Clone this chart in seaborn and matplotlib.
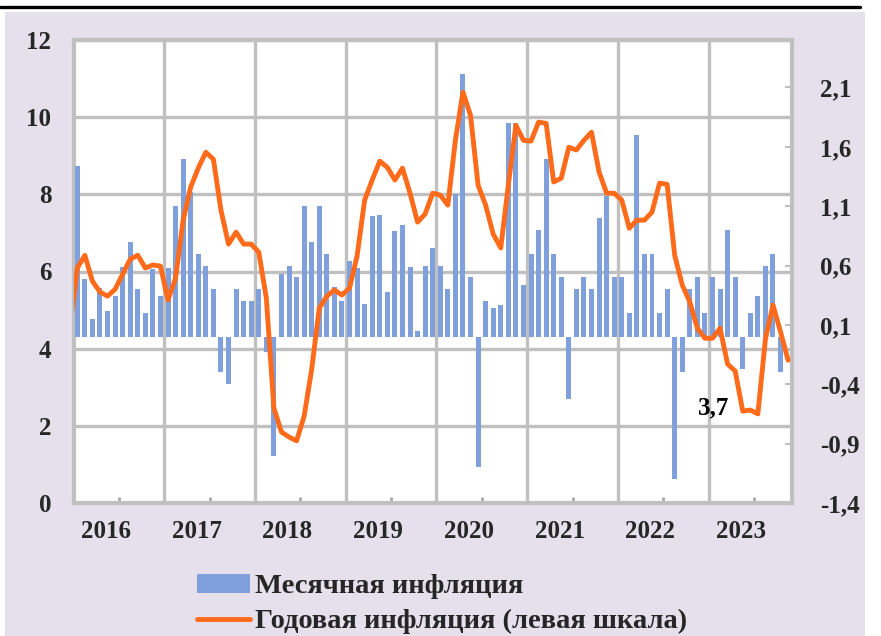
import numpy as np
import pandas as pd
import matplotlib
matplotlib.use("Agg")
import matplotlib.pyplot as plt
import seaborn as sns
from matplotlib.patches import Rectangle
from matplotlib.lines import Line2D
from matplotlib.font_manager import FontProperties

# ---------------- data ----------------
years = ["2016", "2017", "2018", "2019", "2020", "2021", "2022", "2023"]

# monthly inflation, Jan 2016 .. Oct 2023 (right scale)
monthly_2016 = [1.44, 0.49, 0.15, 0.41, 0.22, 0.34, 0.59, 0.80, 0.40, 0.20, 0.57, 0.34]
monthly_2017 = [0.58, 1.10, 1.50, 1.22, 0.70, 0.60, 0.40, -0.30, -0.40, 0.40, 0.30, 0.30]
monthly_2018 = [0.40, -0.13, -1.00, 0.53, 0.60, 0.50, 1.10, 0.80, 1.10, 0.70, 0.42, 0.30]
monthly_2019 = [0.64, 0.58, 0.28, 1.02, 1.03, 0.38, 0.89, 0.94, 0.59, 0.05, 0.60, 0.75]
monthly_2020 = [0.60, 0.40, 1.20, 2.21, 0.50, -1.10, 0.30, 0.24, 0.27, 1.80, 1.80, 0.44]
monthly_2021 = [0.70, 0.90, 1.50, 0.70, 0.50, -0.52, 0.40, 0.50, 0.40, 1.00, 1.19, 0.50]
monthly_2022 = [0.50, 0.20, 1.70, 0.70, 0.70, 0.20, 0.40, -1.20, -0.30, 0.40, 0.50, 0.20]
monthly_2023 = [0.50, 0.40, 0.90, 0.50, -0.27, 0.20, 0.34, 0.60, 0.70, -0.30]

# annual inflation, Dec 2015 .. Nov 2023 (left scale)
annual_2015 = [4.50]
annual_2016 = [6.09, 6.42, 5.75, 5.47, 5.36, 5.54, 5.93, 6.32, 6.42, 6.09, 6.17, 6.14]
annual_2017 = [5.26, 5.83, 7.33, 8.19, 8.68, 9.09, 8.91, 7.59, 6.71, 7.02, 6.71, 6.71]
annual_2018 = [6.50, 5.31, 2.46, 1.84, 1.71, 1.61, 2.25, 3.47, 5.05, 5.36, 5.52, 5.39]
annual_2019 = [5.57, 6.40, 7.85, 8.37, 8.86, 8.70, 8.37, 8.68, 8.03, 7.28, 7.49, 8.03]
annual_2020 = [7.98, 7.72, 9.40, 10.65, 10.05, 8.24, 7.72, 6.97, 6.61, 8.24, 9.79, 9.40]
annual_2021 = [9.38, 9.87, 9.84, 8.32, 8.42, 9.22, 9.15, 9.40, 9.61, 8.58, 8.03, 8.03]
annual_2022 = [7.85, 7.12, 7.33, 7.33, 7.54, 8.29, 8.26, 6.42, 5.65, 5.21, 4.53, 4.27]
annual_2023 = [4.27, 4.53, 3.60, 3.42, 2.38, 2.41, 2.31, 4.25, 5.13, 4.43, 3.70]

left_ticks = [0, 2, 4, 6, 8, 10, 12]
right_ticks = [-1.4, -0.9, -0.4, 0.1, 0.6, 1.1, 1.6, 2.1]

label_monthly = "Месячная инфляция"
label_annual = "Годовая инфляция (левая шкала)"

monthly = (monthly_2016 + monthly_2017 + monthly_2018 + monthly_2019 +
           monthly_2020 + monthly_2021 + monthly_2022 + monthly_2023)
annual = (annual_2015 + annual_2016 + annual_2017 + annual_2018 + annual_2019 +
          annual_2020 + annual_2021 + annual_2022 + annual_2023)

bar_df = pd.DataFrame({"pos": np.arange(len(monthly)), "val": monthly})
line_df = pd.DataFrame({"pos": np.arange(len(annual)) - 1, "val": annual})

# ---------------- style ----------------
sns.set_style("white")
plt.rcParams["font.family"] = ["Liberation Serif", "DejaVu Serif"]
plt.rcParams["font.weight"] = "bold"

BAR = "#7FA0DB"
ORANGE = "#FF6B1A"
GRID = "#C0C0C0"
BG = "#E5E0EC"
FS = 18
LEG_FS = 20.5

W, H = 881, 636
fig = plt.figure(figsize=(W / 100, H / 100), dpi=100, facecolor="white")
fig.patches.append(Rectangle((5 / W, 0), (865 - 5) / W, 1 - 12 / H,
                             transform=fig.transFigure, facecolor=BG,
                             edgecolor="none", zorder=-10))
fig.lines.append(Line2D([0, 860 / W], [1 - 7 / H, 1 - 7 / H],
                        transform=fig.transFigure, color="black", lw=2.4))

L, R, T, B = 73.5, 791.9, 40, 503
ax = fig.add_axes([L / W, 1 - B / H, (R - L) / W, (B - T) / H])
ax.set_facecolor("white")

ax_r = ax.twinx()
ax_line = ax.twinx()

# bars on right scale
sns.barplot(data=bar_df, x="pos", y="val", native_scale=True, ax=ax_r,
            color=BAR, width=0.66, edgecolor="none", linewidth=0,
            saturation=1, label=label_monthly, legend=False)
# line on left scale
sns.lineplot(data=line_df, x="pos", y="val", ax=ax_line, color=ORANGE,
             linewidth=3.5, solid_joinstyle="round", solid_capstyle="round",
             label=label_annual, legend=False)

n_cat = len(monthly) + 1
ax.set_xlim(-0.5, n_cat - 0.5)
ax.set_ylim(left_ticks[0], left_ticks[-1])
ax_line.set_ylim(left_ticks[0], left_ticks[-1])
ax_r.set_ylim(right_ticks[0], 2.5)

for a in (ax, ax_r, ax_line):
    a.set_xlabel("")
    a.set_ylabel("")

# left axis
ax.set_yticks(left_ticks, labels=[str(v) for v in left_ticks])
ax.tick_params(axis="y", length=0, pad=16, labelsize=FS)
ax.yaxis.grid(True, color=GRID, lw=2.4)

# x axis: year labels, year-boundary gridlines
year_pos = [12 * k + 3.8 for k in range(len(years))]
ax.set_xticks(year_pos, labels=years)
ax.tick_params(axis="x", which="major", length=0, pad=12, labelsize=FS)
ax.set_xticks([12 * k + 11.5 for k in range(len(years) - 1)], minor=True)
ax.tick_params(axis="x", which="minor", length=0)
ax.xaxis.grid(True, which="minor", color=GRID, lw=2.4)
ax.xaxis.grid(False, which="major")

for s in ax.spines.values():
    s.set_color(GRID)
    s.set_linewidth(3)

# mid-year tick marks on the bottom
sec = ax.secondary_xaxis("bottom")
sec.set_xticks([12 * k + 5.5 for k in range(len(years))], labels=[""] * len(years))
sec.tick_params(direction="in", length=4, width=2, color="#A8A8A8")
sec.spines["bottom"].set_visible(False)

# right axis
ax_r.set_yticks(right_ticks, labels=[f"{v:.1f}".replace(".", ",") for v in right_ticks])
ax_r.tick_params(axis="y", direction="in", length=5, width=1.5, color=GRID,
                 pad=20, labelsize=FS)
for s in ax_r.spines.values():
    s.set_visible(False)
ax_r.grid(False)

ax_line.yaxis.set_visible(False)
for s in ax_line.spines.values():
    s.set_visible(False)
ax_line.grid(False)

# annotation of the last annual value
ax_line.text(84.1, 2.46, f"{annual[-1]:.1f}".replace(".", ","), ha="center",
             va="center", fontsize=18, fontweight="bold", color="black")

# legend
handles = [ax_r.containers[0], ax_line.lines[0]]
fig.legend(handles, [label_monthly, label_annual], loc="upper left",
           bbox_to_anchor=(197 / W, 1 - 574 / H), frameon=False,
           prop=FontProperties(family="Liberation Serif", weight="bold", size=LEG_FS),
           handlelength=1.86, handleheight=0.63, handletextpad=0.18,
           labelspacing=0.34, borderpad=0, borderaxespad=0)

fig.savefig("out.png", dpi=100, facecolor=fig.get_facecolor())
